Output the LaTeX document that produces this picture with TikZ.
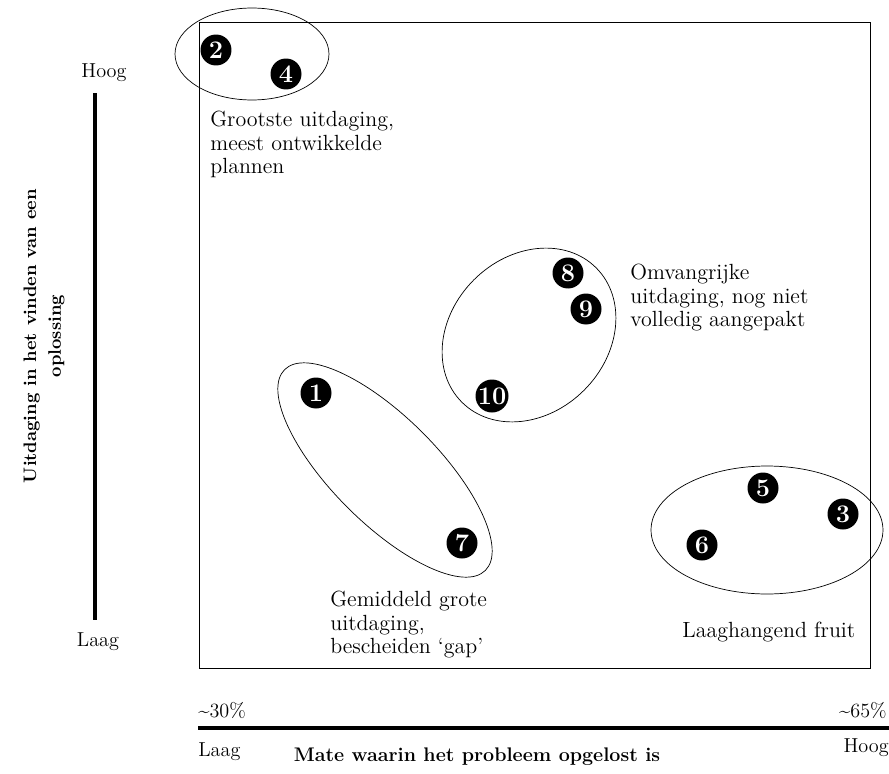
\documentclass[tikz,border=0pt]{standalone}
\usepackage{amssymb,amsmath}
\usepackage{color}
\usepackage{tikz}

\begin{document}
\begin{tikzpicture}[x=0.02cm, y=-0.02cm,
  dot/.style={circle, fill=black, text=white, inner sep=0pt, minimum size=0.62cm, font=\bfseries\Large},
  lbl/.style={align=left, anchor=north west, inner sep=0pt, font=\fontsize{12.5}{13.4}\selectfont},
  axlbl/.style={inner sep=0pt, font=\fontsize{11.5}{13}\selectfont}]
\useasboundingbox (0,0) rectangle (889,774);

% frame
\draw [black, thin] (199,22) rectangle (870,668);

% vertical axis
\node [axlbl] (hoogy) at (104,73) {Hoog};
\node [axlbl] (laagy) at (98,642) {Laag};
\coordinate (ytop) at (95,93);
\coordinate (ybot) at (95,620);
\draw [black, line width=2.4pt] (ytop) -- (ybot);
\node [rotate=90, align=center, font=\bfseries\fontsize{10.3}{14}\selectfont] (ytitle) at (44,336)
  {Uitdaging in het vinden van een\\oplossing};

% horizontal axis
\node [axlbl, anchor=west] (pctlow) at (198,710) {\textasciitilde30\%};
\node [axlbl, anchor=east] (pcthigh) at (887,710) {\textasciitilde65\%};
\coordinate (xleft) at (198,728);
\coordinate (xright) at (889,728);
\draw [black, line width=1.8pt] (xleft) -- (xright);
\node [axlbl, anchor=west] (laagx) at (198,752) {Laag};
\node [axlbl, anchor=east] (hoogx) at (889,748) {Hoog};
\node [axlbl, font=\bfseries\fontsize{11.2}{13}\selectfont] (xtitle) at (477,757) {Mate waarin het probleem opgelost is};

% groups
\draw [black, thin] (252,54) ellipse [x radius=1.54cm, y radius=0.92cm];
\draw [black, thin, rotate around={45:(529,335)}] (529,335) ellipse [x radius=1.9cm, y radius=1.56cm];
\draw [black, thin, rotate around={-45:(385,470)}] (385,470) ellipse [x radius=2.84cm, y radius=1.06cm];
\draw [black, thin] (767,530) ellipse [x radius=2.32cm, y radius=1.28cm];

% numbered problems
\node [dot] (p2) at (216,50) {2};
\node [dot] (p4) at (286,74) {4};
\node [dot] (p8) at (568,273) {8};
\node [dot] (p9) at (586,309) {9};
\node [dot] (p10) at (492,396) {10};
\node [dot] (p1) at (316,393) {1};
\node [dot] (p7) at (462,543) {7};
\node [dot] (p5) at (763,488) {5};
\node [dot] (p3) at (843,514) {3};
\node [dot] (p6) at (702,545) {6};

% group labels
\node [lbl] (grootste) at (210,111) {Grootste uitdaging,\\meest ontwikkelde\\plannen};
\node [lbl] (omvang) at (630,264) {Omvangrijke\\uitdaging, nog niet\\volledig aangepakt};
\node [lbl] (gemiddeld) at (330,591) {Gemiddeld grote\\uitdaging,\\bescheiden `gap'};
\node [lbl, anchor=west] (fruit) at (682,632) {Laaghangend fruit};

\end{tikzpicture}
\end{document}
